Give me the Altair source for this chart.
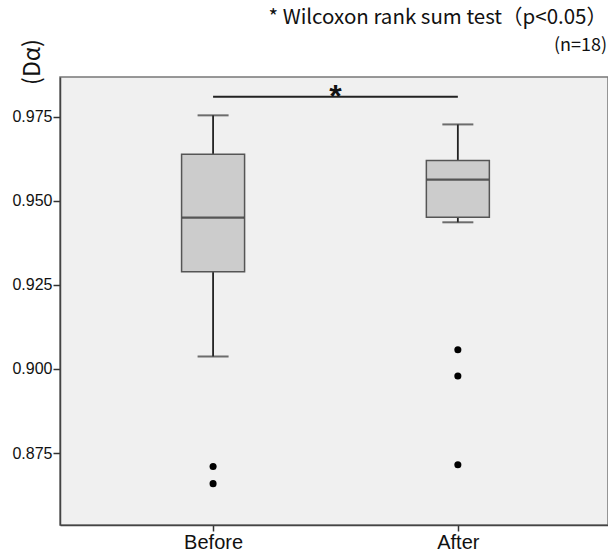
import altair as alt
import pandas as pd

# ---- data ----
groups = ["Before", "After"]
whisker_low = [0.9037, 0.9436]
q1 = [0.9289, 0.9451]
median = [0.9450, 0.9563]
q3 = [0.9638, 0.9620]
whisker_high = [0.9754, 0.9727]
outlier_group = ["Before", "Before", "After", "After", "After"]
outlier_value = [0.8710, 0.8659, 0.9057, 0.8979, 0.8715]
sig_level = 0.9809
sig_label = "*"
test_note = "* Wilcoxon rank sum test（p<0.05）"
n_note = "(n=18)"
y_title = "(Dα)"
y_ticks = [0.875, 0.900, 0.925, 0.950, 0.975]

pos = {g: i for i, g in enumerate(groups)}
box_df = pd.DataFrame({
    "group": groups,
    "pos": [pos[g] for g in groups],
    "lo": whisker_low, "q1": q1, "med": median, "q3": q3, "hi": whisker_high,
})
out_df = pd.DataFrame({
    "group": outlier_group,
    "pos": [pos[g] for g in outlier_group],
    "value": outlier_value,
})
sig_df = pd.DataFrame({
    "x1": [pos[groups[0]]], "x2": [pos[groups[1]]],
    "mid": [(pos[groups[0]] + pos[groups[1]]) / 2],
    "y": [sig_level], "label": [sig_label],
})

label_expr = "datum.value == 0 ? '" + groups[0] + "' : '" + groups[1] + "'"

xs = alt.Scale(domain=[-0.605, 1.593], nice=False, zero=False)
ys = alt.Scale(domain=[0.8536, 0.9868], nice=False, zero=False)

x_enc = alt.X("pos:Q", scale=xs, axis=alt.Axis(
    values=[0, 1], labelExpr=label_expr, title=None, grid=False,
    labelFont="Liberation Sans", labelFontSize=20, labelColor="#111",
    tickColor="#333", tickSize=6, tickWidth=1.5,
    domainColor="#444", domainWidth=1.5, labelPadding=1))
y_axis = alt.Axis(
    values=y_ticks, format=".3f", grid=False, title=None,
    labelFont="Liberation Sans", labelFontSize=16, labelColor="#111",
    tickColor="#333", tickSize=7, tickWidth=1.5,
    domainColor="#444", domainWidth=1.5, labelPadding=1)

base = alt.Chart(box_df)

whisk = base.mark_rule(color="#222", strokeWidth=1.8).encode(
    x=x_enc, y=alt.Y("lo:Q", scale=ys, axis=y_axis), y2="hi:Q")
box = base.mark_bar(size=63, fill="#cccccc", stroke="#555", strokeWidth=1.5).encode(
    x="pos:Q", y="q1:Q", y2="q3:Q")
cap_lo = base.mark_tick(orient="horizontal", size=31, thickness=2, color="#333").encode(
    x="pos:Q", y="lo:Q")
cap_hi = base.mark_tick(orient="horizontal", size=31, thickness=2, color="#333").encode(
    x="pos:Q", y="hi:Q")
med = base.mark_tick(orient="horizontal", size=62, thickness=2.2, color="#222").encode(
    x="pos:Q", y="med:Q")

outl = alt.Chart(out_df).mark_circle(size=50, color="#000", opacity=1).encode(
    x="pos:Q", y="value:Q")

sig = alt.Chart(sig_df)
sig_line = sig.mark_rule(color="#222", strokeWidth=2).encode(
    x="x1:Q", x2="x2:Q", y="y:Q")
sig_text = sig.mark_text(fontSize=32, fontWeight="bold", font="Liberation Sans",
                         color="#111", baseline="alphabetic", dy=10).encode(
    x="mid:Q", y="y:Q", text="label:N")

# annotations outside the plot area (pixel offsets relative to plot origin)
note_df = pd.DataFrame({"t": [test_note]})
n_df = pd.DataFrame({"t": [n_note]})
yt_df = pd.DataFrame({"t": [y_title]})
note = alt.Chart(note_df).mark_text(
    font="Noto Sans CJK JP", fontSize=20.5, color="#111", align="right",
    baseline="middle").encode(text="t:N", x=alt.value(547), y=alt.value(-59))
nn = alt.Chart(n_df).mark_text(
    font="Noto Sans CJK JP", fontSize=18, color="#111", align="right",
    baseline="middle").encode(text="t:N", x=alt.value(547), y=alt.value(-31))
yt = alt.Chart(yt_df).mark_text(
    font="Noto Sans CJK JP", fontSize=23, color="#111", align="center",
    baseline="middle", angle=270).encode(text="t:N", x=alt.value(-27), y=alt.value(-15))

chart = alt.layer(whisk, box, cap_lo, cap_hi, med, outl, sig_line, sig_text,
                  note, nn, yt).properties(
    width=548, height=448,
    padding={"left": 60, "top": 77, "right": 0, "bottom": 28},
    autosize=alt.AutoSizeParams(type="none"),
    background="white",
).configure_view(fill="#f0f0f0", stroke="#777", strokeWidth=1.5)

chart.save("out.html", embed_options={"renderer": "svg", "actions": False})
